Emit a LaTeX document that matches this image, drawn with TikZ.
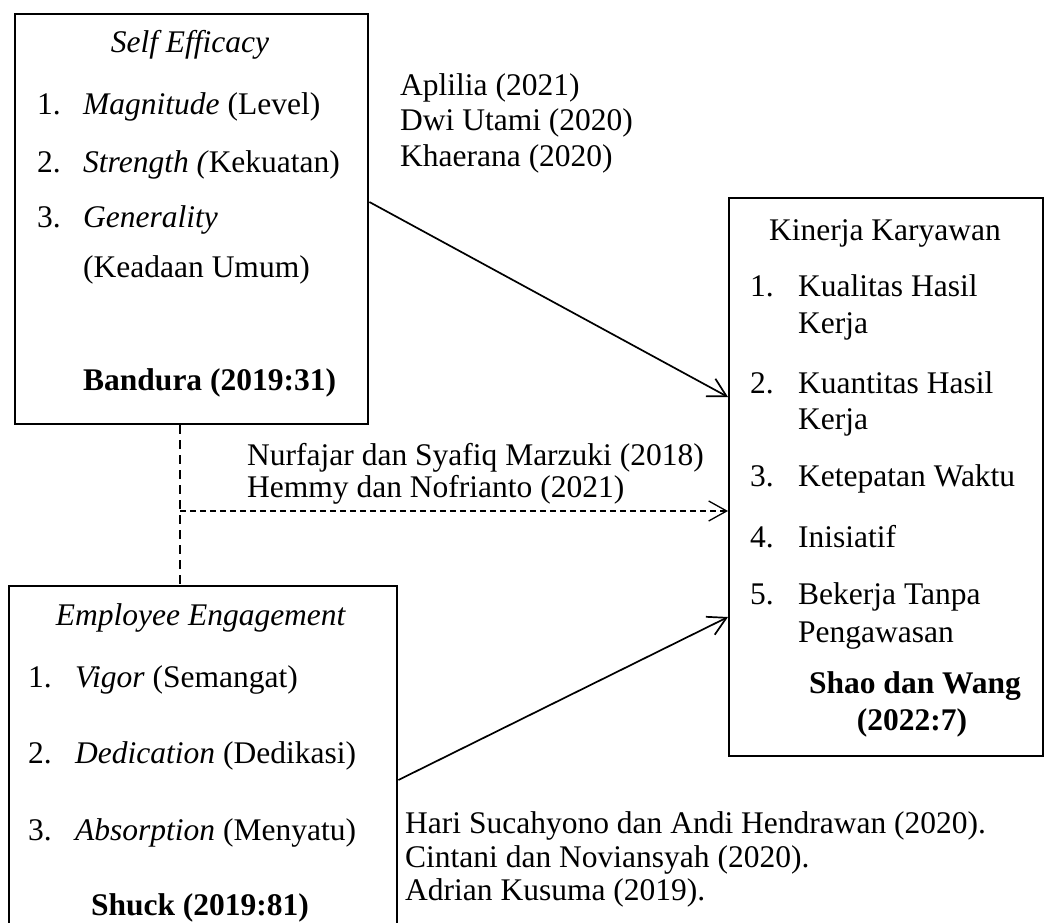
\documentclass[tikz,border=0pt]{standalone}
\usepackage{fontspec}
\setmainfont{Liberation Serif}
\usetikzlibrary{arrows.meta}
\begin{document}
\begin{tikzpicture}[x=1pt,y=-1pt,
  box/.style={draw, line width=2.4pt, inner sep=0pt, anchor=north west},
  txt/.style={inner sep=0pt, font=\fontsize{31.5}{36}\selectfont},
  lt/.style={txt, anchor=base west},
  ct/.style={txt, anchor=base},
  arr/.style={line width=1.7pt, -{Straight Barb[length=18pt,width=20pt,line width=1.7pt]}},
  darr/.style={line width=1.3pt, dash pattern=on 6pt off 4pt, -{Straight Barb[length=18pt,width=20pt,line width=1.3pt]}},
  dline/.style={line width=1.8pt, dash pattern=on 9pt off 6pt}]
\useasboundingbox (0,0) rectangle (1049,923);
\clip (0,0) rectangle (1049,923);

% boxes
\node[box, minimum width=353pt, minimum height=410pt] (b1) at (14,13) {};
\node[box, minimum width=314pt, minimum height=558pt] (b3) at (728,197) {};
\node[box, minimum width=388pt, minimum height=420pt] (b2) at (8,585) {};

% Self Efficacy box text
\node[ct] (b1t) at (190,53) {\textit{Self Efficacy}};
\node[lt] (b1n1) at (37,115) {1.};
\node[lt] (b1i1) at (83,115) {\textit{Magnitude} (Level)};
\node[lt] (b1n2) at (37,172) {2.};
\node[lt] (b1i2) at (83,172) {\textit{Strength (}Kekuatan)};
\node[lt] (b1n3) at (37,227) {3.};
\node[lt] (b1i3) at (83,227) {\textit{Generality}};
\node[lt] (b1i3b) at (83,277) {(Keadaan Umum)};
\node[lt] (b1s) at (83,390) {\textbf{Bandura (2019:31)}};

% Kinerja box text
\node[ct] (b3t) at (885,240) {Kinerja Karyawan};
\node[lt] (b3n1) at (750,296) {1.};
\node[lt] (b3i1) at (798,296) {Kualitas Hasil};
\node[lt] (b3i1b) at (798,333) {Kerja};
\node[lt] (b3n2) at (750,393) {2.};
\node[lt] (b3i2) at (798,393) {Kuantitas Hasil};
\node[lt] (b3i2b) at (798,429) {Kerja};
\node[lt] (b3n3) at (750,486) {3.};
\node[lt] (b3i3) at (798,486) {Ketepatan Waktu};
\node[lt] (b3n4) at (750,547) {4.};
\node[lt] (b3i4) at (798,547) {Inisiatif};
\node[lt] (b3n5) at (750,604) {5.};
\node[lt] (b3i5) at (798,604) {Bekerja Tanpa};
\node[lt] (b3i5b) at (798,642) {Pengawasan};
\node[ct] (b3s1) at (915,693) {\textbf{Shao dan Wang}};
\node[ct] (b3s2) at (912,730) {\textbf{(2022:7)}};

% Employee Engagement box text
\node[ct] (b2t) at (201,625) {\textit{Employee Engagement}};
\node[lt] (b2n1) at (28,687) {1.};
\node[lt] (b2i1) at (75,687) {\textit{Vigor} (Semangat)};
\node[lt] (b2n2) at (28,763) {2.};
\node[lt] (b2i2) at (75,763) {\textit{Dedication} (Dedikasi)};
\node[lt] (b2n3) at (28,840) {3.};
\node[lt] (b2i3) at (75,840) {\textit{Absorption} (Menyatu)};
\node[ct] (b2s) at (200,915) {\textbf{Shuck (2019:81)}};

% references
\node[lt] (r1a) at (400,96) {Aplilia (2021)};
\node[lt] (r1b) at (400,131) {Dwi Utami (2020)};
\node[lt] (r1c) at (400,166) {Khaerana (2020)};
\node[lt] (r2a) at (247,465) {Nurfajar dan Syafiq Marzuki (2018)};
\node[lt] (r2b) at (247,497) {Hemmy dan Nofrianto (2021)};
\node[lt] (r3a) at (405,833) {Hari Sucahyono dan Andi Hendrawan (2020).};
\node[lt] (r3b) at (405,867) {Cintani dan Noviansyah (2020).};
\node[lt] (r3c) at (405,900) {Adrian Kusuma (2019).};

% connectors
\coordinate (dj) at (180,511);
\draw[dline] (b1.south -| dj) -- (b2.north -| dj);
\draw[darr] (dj) -- (b3.west |- dj);
\draw[arr] (b1.east |- 0,202) -- (b3.west |- 0,397);
\draw[arr] (b2.east |- 0,780) -- (b3.west |- 0,617);
\end{tikzpicture}
\end{document}
